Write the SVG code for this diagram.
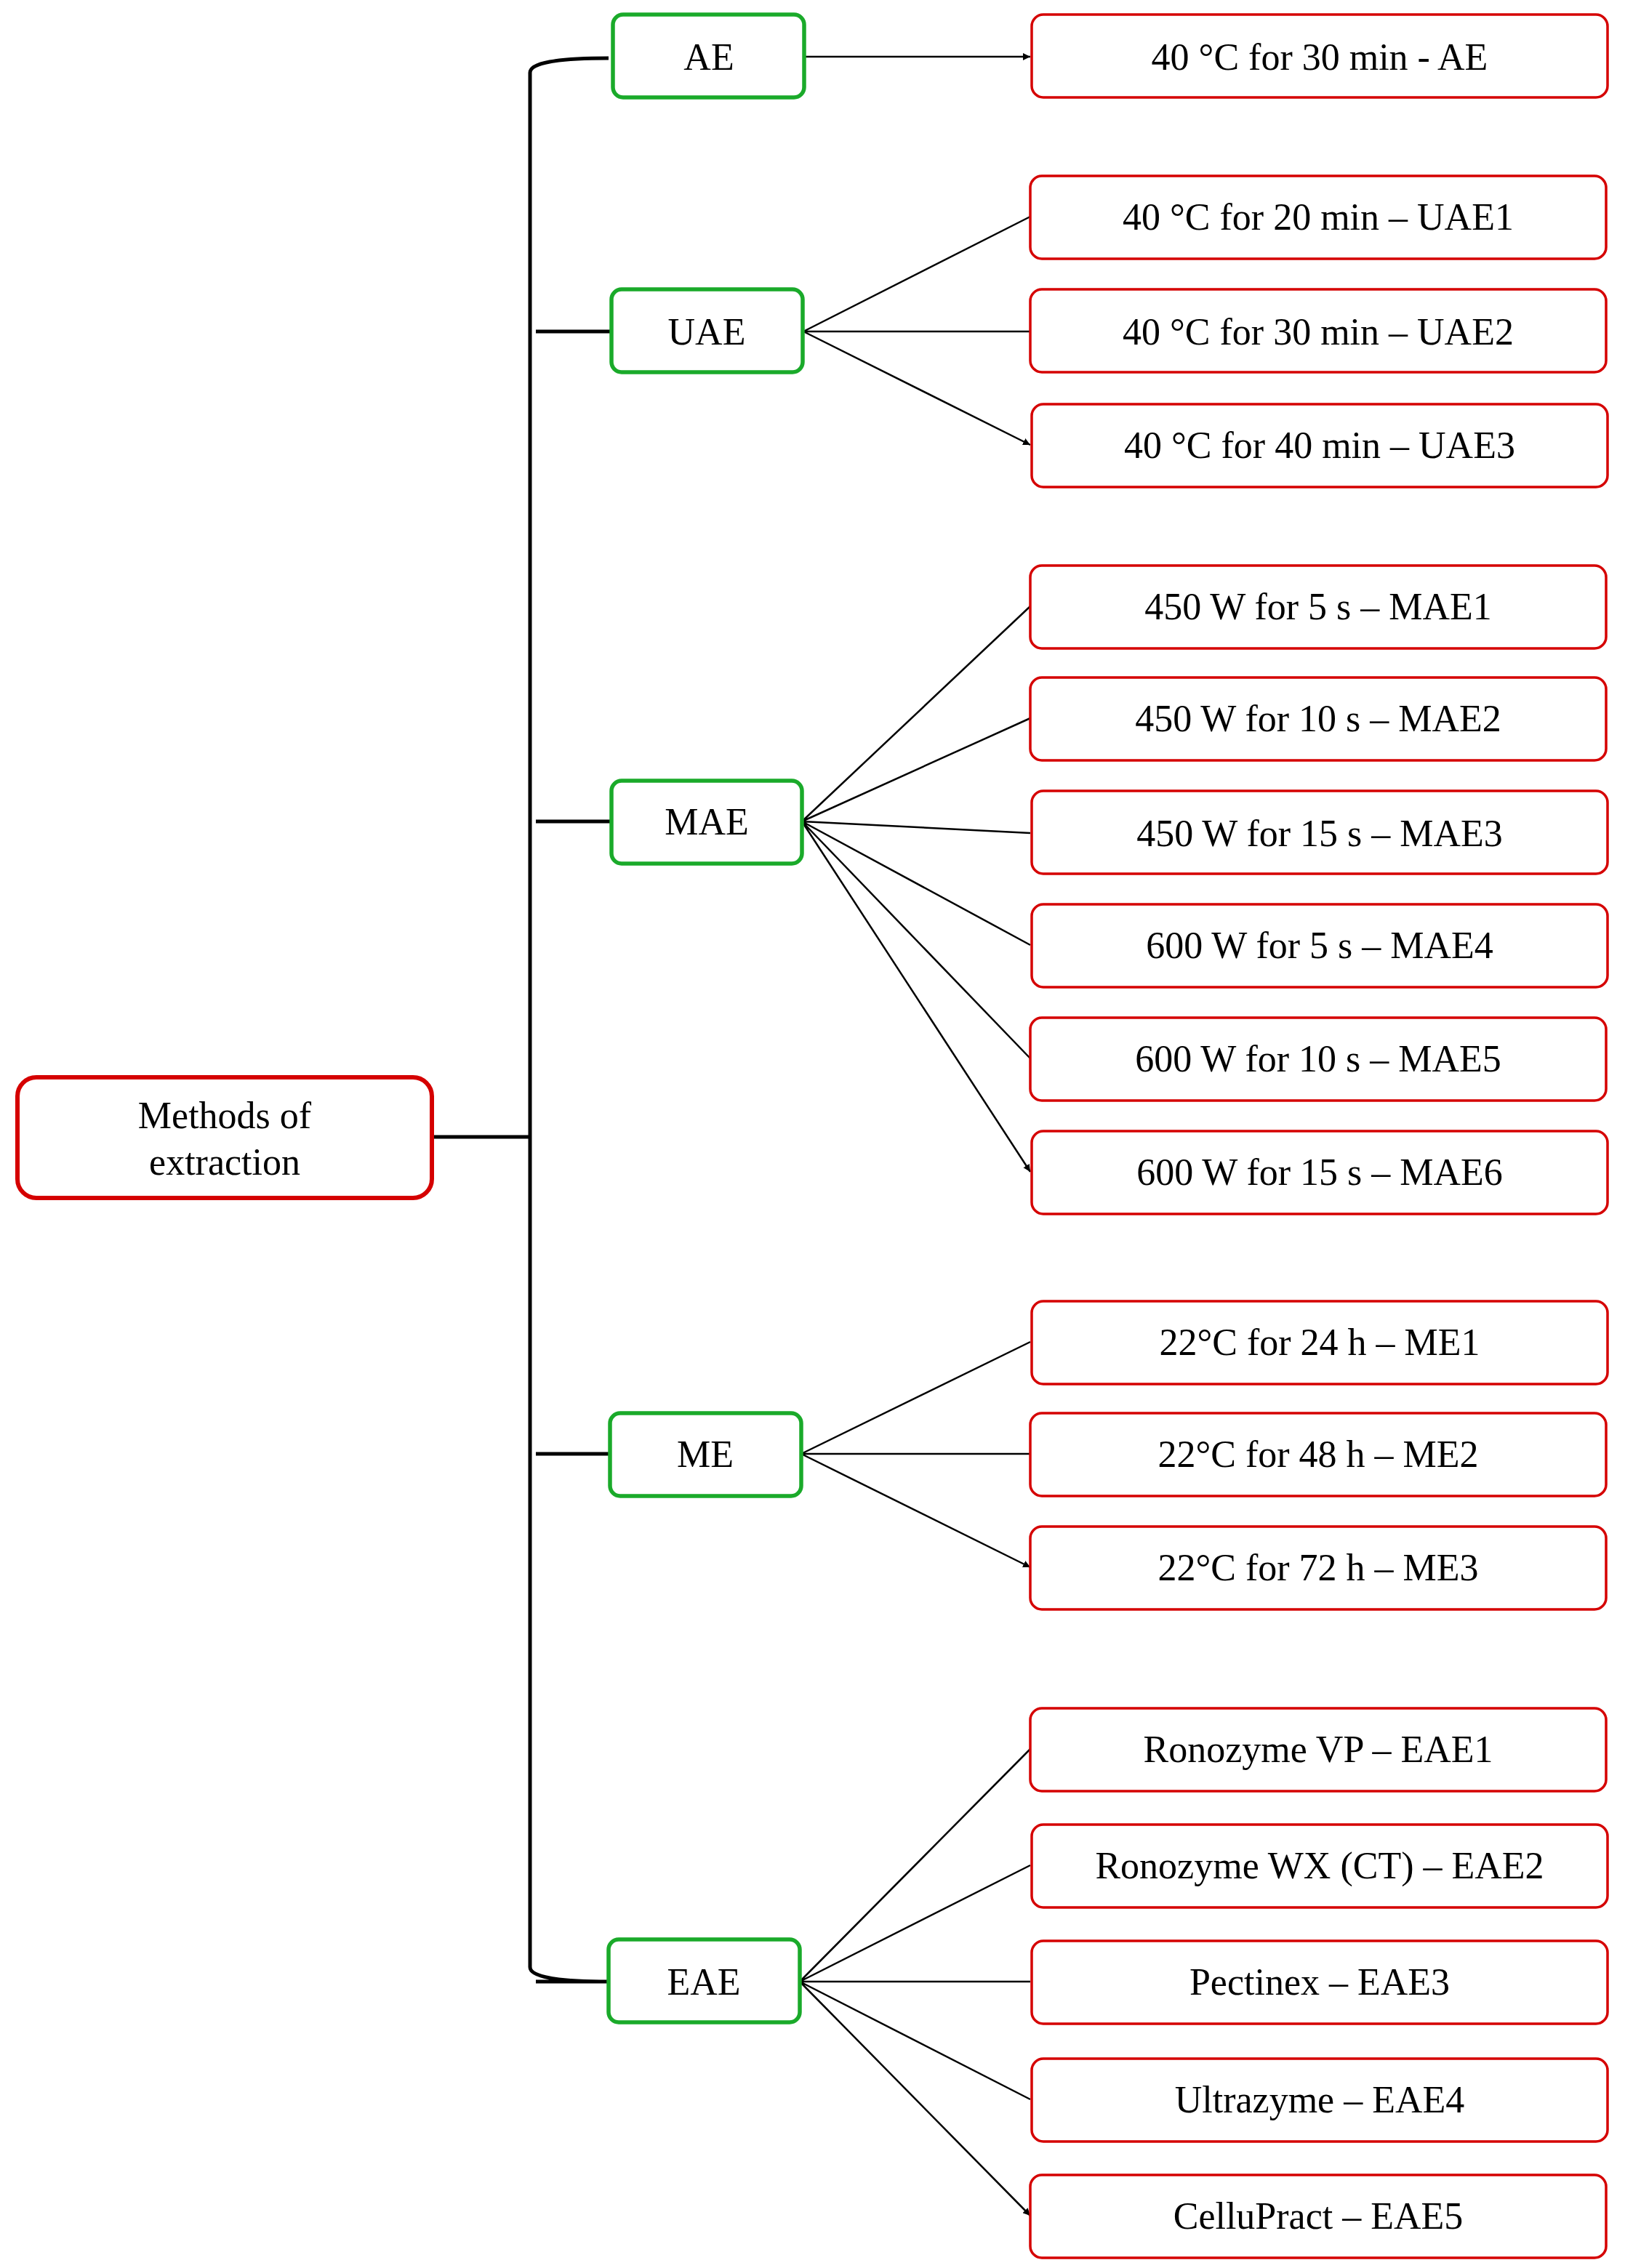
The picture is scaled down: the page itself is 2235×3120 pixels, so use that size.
<svg xmlns="http://www.w3.org/2000/svg" width="2235" height="3120" viewBox="0 0 2235 3120">
<style>
text{font-family:"Liberation Serif","DejaVu Serif",serif;font-size:52px;fill:#000;text-anchor:middle;dominant-baseline:central}
.r{fill:#fff;stroke:#d50000;stroke-width:3.5}
.g{fill:#fff;stroke:#1aaa2a;stroke-width:5.5}
.root{fill:#fff;stroke:#d50000;stroke-width:6}
.trunk{fill:none;stroke:#000;stroke-width:5}
.a{fill:none;stroke:#000;stroke-width:2.5;marker-end:url(#ah)}
</style>
<defs><marker id="ah" viewBox="0 0 10 10" refX="10" refY="5" markerWidth="4" markerHeight="4" orient="auto"><path d="M0,0L10,5L0,10z" fill="#000"/></marker></defs>
<rect width="2235" height="3120" fill="#fff"/>
<g id="connectors">
<path class="trunk" d="M592,1564H729M837,80Q729,80 729,100V2706Q729,2726 837,2726M737,456H841M737,1130H841M737,2000H839M737,2726H837"/>
<path class="a" d="M1105,78H1417"/>
<path class="a" d="M1105,456L1417,298M1105,456H1417M1105,456L1417,612"/>
<path class="a" d="M1103,1130L1417,834M1103,1130L1417,988M1103,1130L1417,1146M1103,1130L1417,1300M1103,1130L1417,1456M1103,1130L1417,1612"/>
<path class="a" d="M1102,2000L1417,1846M1102,2000H1417M1102,2000L1417,2156"/>
<path class="a" d="M1100,2726L1417,2406M1100,2726L1417,2566M1100,2726L1417,2726M1100,2726L1417,2888M1100,2726L1417,3048"/>
</g>
<g id="root"><rect class="root" x="24" y="1482" width="570" height="166" rx="26"/><text x="309" y="1534">Methods of</text><text x="309" y="1598">extraction</text></g>
<g id="AE"><rect class="g" x="843" y="20" width="263" height="114" rx="14"/><text x="975" y="78">AE</text></g>
<g id="UAE"><rect class="g" x="841" y="398" width="263" height="114" rx="14"/><text x="972" y="456">UAE</text></g>
<g id="MAE"><rect class="g" x="841" y="1074" width="262" height="114" rx="14"/><text x="972" y="1130">MAE</text></g>
<g id="ME"><rect class="g" x="839" y="1944" width="263" height="114" rx="14"/><text x="970" y="2000">ME</text></g>
<g id="EAE"><rect class="g" x="837" y="2668" width="263" height="114" rx="14"/><text x="968" y="2726">EAE</text></g>
<g id="n1"><rect class="r" x="1419" y="20" width="792" height="114" rx="16"/><text x="1815" y="78">40 °C for 30 min - AE</text></g>
<g id="n2"><rect class="r" x="1417" y="242" width="792" height="114" rx="16"/><text x="1813" y="298">40 °C for 20 min – UAE1</text></g>
<g id="n3"><rect class="r" x="1417" y="398" width="792" height="114" rx="16"/><text x="1813" y="456">40 °C for 30 min – UAE2</text></g>
<g id="n4"><rect class="r" x="1419" y="556" width="792" height="114" rx="16"/><text x="1815" y="612">40 °C for 40 min – UAE3</text></g>
<g id="n5"><rect class="r" x="1417" y="778" width="792" height="114" rx="16"/><text x="1813" y="834">450 W for 5 s – MAE1</text></g>
<g id="n6"><rect class="r" x="1417" y="932" width="792" height="114" rx="16"/><text x="1813" y="988">450 W for 10 s – MAE2</text></g>
<g id="n7"><rect class="r" x="1419" y="1088" width="792" height="114" rx="16"/><text x="1815" y="1146">450 W for 15 s – MAE3</text></g>
<g id="n8"><rect class="r" x="1419" y="1244" width="792" height="114" rx="16"/><text x="1815" y="1300">600 W for 5 s – MAE4</text></g>
<g id="n9"><rect class="r" x="1417" y="1400" width="792" height="114" rx="16"/><text x="1813" y="1456">600 W for 10 s – MAE5</text></g>
<g id="n10"><rect class="r" x="1419" y="1556" width="792" height="114" rx="16"/><text x="1815" y="1612">600 W for 15 s – MAE6</text></g>
<g id="n11"><rect class="r" x="1419" y="1790" width="792" height="114" rx="16"/><text x="1815" y="1846">22°C for 24 h – ME1</text></g>
<g id="n12"><rect class="r" x="1417" y="1944" width="792" height="114" rx="16"/><text x="1813" y="2000">22°C for 48 h – ME2</text></g>
<g id="n13"><rect class="r" x="1417" y="2100" width="792" height="114" rx="16"/><text x="1813" y="2156">22°C for 72 h – ME3</text></g>
<g id="n14"><rect class="r" x="1417" y="2350" width="792" height="114" rx="16"/><text x="1813" y="2406">Ronozyme VP – EAE1</text></g>
<g id="n15"><rect class="r" x="1419" y="2510" width="792" height="114" rx="16"/><text x="1815" y="2566">Ronozyme WX (CT) – EAE2</text></g>
<g id="n16"><rect class="r" x="1419" y="2670" width="792" height="114" rx="16"/><text x="1815" y="2726">Pectinex – EAE3</text></g>
<g id="n17"><rect class="r" x="1419" y="2832" width="792" height="114" rx="16"/><text x="1815" y="2888">Ultrazyme – EAE4</text></g>
<g id="n18"><rect class="r" x="1417" y="2992" width="792" height="114" rx="16"/><text x="1813" y="3048">CelluPract – EAE5</text></g>
</svg>
